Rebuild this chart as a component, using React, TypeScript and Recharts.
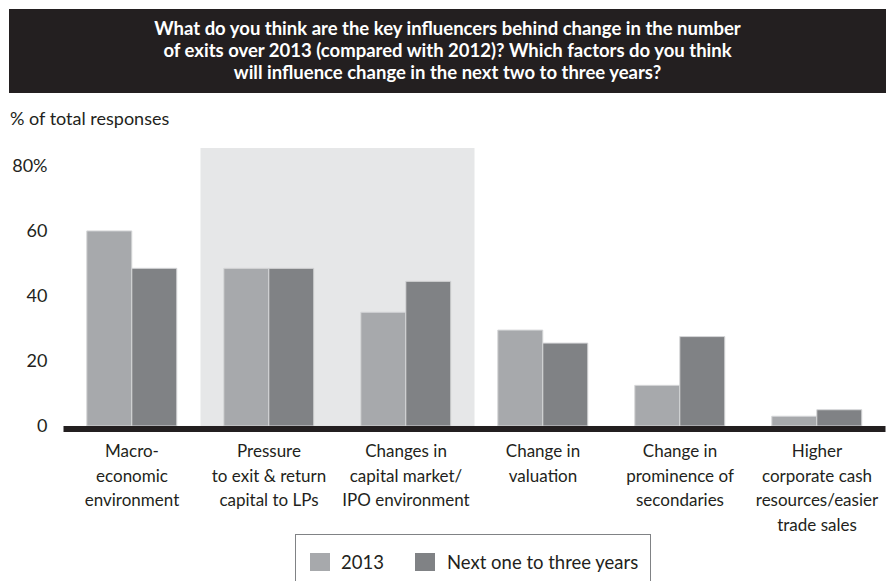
import React from "react";
import { BarChart, Bar, XAxis, YAxis, ReferenceArea } from "recharts";

// categories (line breaks as in the printed labels)
const categories = [
  "Macro-\neconomic\nenvironment",
  "Pressure\nto exit & return\ncapital to LPs",
  "Changes in\ncapital market/\nIPO environment",
  "Change in\nvaluation",
  "Change in\nprominence of\nsecondaries",
  "Higher\ncorporate cash\nresources/easier\ntrade sales",
];
const values2013 = [60, 48.5, 35, 29.5, 12.5, 3];
const valuesNext = [48.5, 48.5, 44.5, 25.5, 27.5, 5];
const yTicks = [0, 20, 40, 60, 80];
const seriesNames = ["2013", "Next one to three years"];
const highlighted = [categories[1], categories[2]];

const FONT = "Lato, 'Open Sans', sans-serif";
const INK = "#231f20";
const LIGHT = "#a7a9ac";
const DARK = "#808285";

const data = categories.map((c, i) => ({
  name: c,
  y2013: values2013[i],
  next: valuesNext[i],
}));

function CategoryTick(props: any) {
  const { x, y, payload } = props;
  const lines: string[] = String(payload.value).split("\n");
  return (
    <text x={x} y={y} textAnchor="middle" fill={INK} fontSize={17} fontFamily={FONT}>
      {lines.map((l, i) => (
        <tspan key={i} x={x} y={y + 31 + i * 24.5}>
          {l}
        </tspan>
      ))}
    </text>
  );
}

export default function App() {
  return (
    <div style={{ position: "absolute", left: 0, top: 0, width: 890, height: 581, background: "#fff", fontFamily: FONT, color: INK }}>
      {/* title banner */}
      <div
        style={{
          position: "absolute",
          left: 9,
          top: 9,
          width: 877,
          height: 84,
          background: INK,
          color: "#fff",
          fontWeight: 700,
          fontSize: 18.5,
          lineHeight: "22px",
          textAlign: "center",
          boxSizing: "border-box",
          paddingTop: 8,
        }}
      >
        What do you think are the key influencers behind change in the number
        <br />
        of exits over 2013 (compared with 2012)? Which factors do you think
        <br />
        will influence change in the next two to three years?
      </div>
      <div style={{ position: "absolute", left: 10, top: 107, fontSize: 18, lineHeight: "22px" }}>
        % of total responses
      </div>

      <div style={{ position: "absolute", left: 0, top: 0 }}>
        <BarChart
          width={890}
          height={581}
          data={data}
          margin={{ top: 148, right: 4.5, bottom: 55, left: 13.5 }}
          barCategoryGap="17%"
          barGap={0}
        >
          <ReferenceArea
            x1={highlighted[0]}
            x2={highlighted[1]}
            y1={0}
            y2={85.5}
            fill="#e6e7e8"
            fillOpacity={1}
            stroke="none"
          />
          <XAxis
            dataKey="name"
            height={100}
            interval={0}
            tickLine={false}
            tickSize={0}
            tickMargin={0}
            tick={<CategoryTick />}
            axisLine={{ stroke: INK, strokeWidth: 6, transform: "translate(0,3)" } as any}
          />
          <YAxis
            width={50}
            domain={[0, 85.5]}
            ticks={yTicks}
            axisLine={false}
            tickLine={false}
            tickSize={0}
            tickMargin={16}
            tick={{ fill: INK, fontSize: 18, fontFamily: FONT }}
            tickFormatter={(v: number) => (v === 80 ? "80%" : String(v))}
          />
          <Bar dataKey="y2013" name={seriesNames[0]} fill={LIGHT} stroke="#d6d7d9" strokeWidth={1} isAnimationActive={false} />
          <Bar dataKey="next" name={seriesNames[1]} fill={DARK} stroke="#d6d7d9" strokeWidth={1} isAnimationActive={false} />
        </BarChart>
      </div>

      {/* legend */}
      <div
        style={{
          position: "absolute",
          left: 295,
          top: 534,
          width: 356,
          height: 70,
          border: `1px solid ${DARK}`,
          boxSizing: "border-box",
          fontSize: 18.5,
        }}
      >
        <div style={{ position: "absolute", left: 14, top: 18, width: 20, height: 18, background: LIGHT }} />
        <div style={{ position: "absolute", left: 45, top: 16, lineHeight: "22px" }}>{seriesNames[0]}</div>
        <div style={{ position: "absolute", left: 119, top: 18, width: 20, height: 18, background: DARK }} />
        <div style={{ position: "absolute", left: 151, top: 16, lineHeight: "22px" }}>{seriesNames[1]}</div>
      </div>
    </div>
  );
}
